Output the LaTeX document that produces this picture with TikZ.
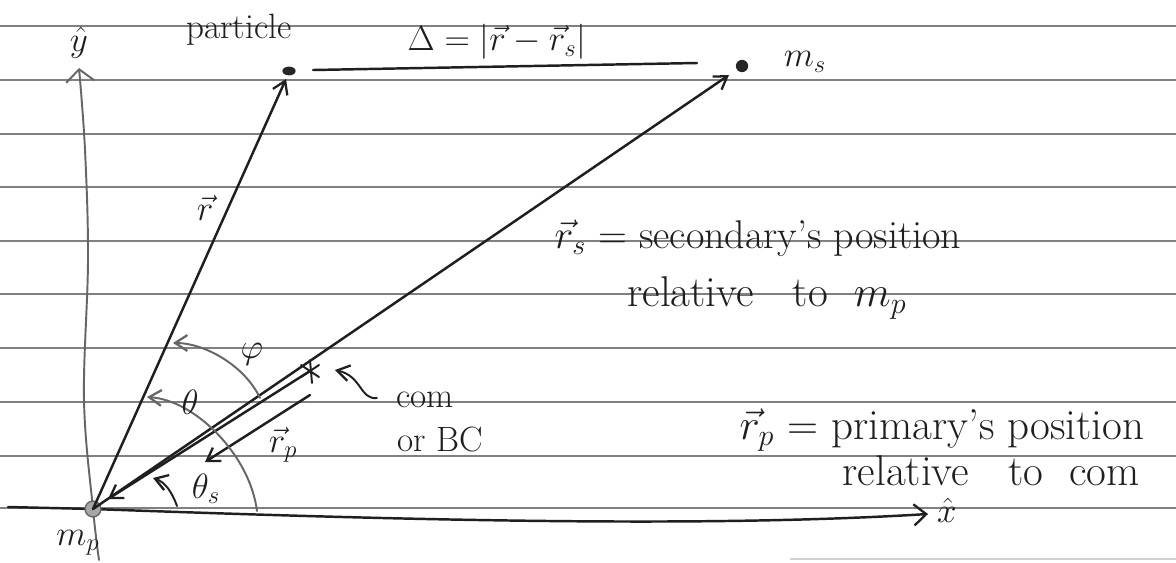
\RequirePackage{fix-cm}
\documentclass[tikz,border=0pt]{standalone}
\usetikzlibrary{arrows.meta,shapes.geometric,calc}
\begin{document}
\begin{tikzpicture}[
  x=0.02cm, y=-0.02cm,
  ink/.style={line width=1.4pt, black!88, line cap=round, line join=round},
  pencil/.style={line width=1.1pt, black!60, line cap=round, line join=round},
  ruled/.style={line width=0.6pt, black!50},
  barb/.style={-{Straight Barb[length=7pt,width=9pt,line width=1.3pt]}},
  lbl/.style={font=\fontsize{20}{24}\selectfont, inner sep=0pt, text=black!88},
  big/.style={font=\fontsize{24.5}{28}\selectfont, inner sep=0pt, text=black!88},
]
\useasboundingbox (0,0) rectangle (1176,562);
\fill[white] (0,0) rectangle (1176,562);

% ruled paper lines
\foreach \yy in {26,80,134,187,241,294,348,402,456,508}
  \draw[ruled] (0,\yy) -- (1176,\yy);
\draw[line width=0.6pt, black!18] (790,559) -- (1176,559);

% named points
\coordinate (mp) at (93,509);
\coordinate (ybot) at (99,560);
\coordinate (ya) at (84,400);
\coordinate (yb) at (88,260);
\coordinate (yc) at (85,150);
\coordinate (ytip) at (79,68);
\coordinate (xl) at (8,507);
\coordinate (xtip) at (928,514);
\coordinate (rtip) at (286,79);
\coordinate (mstip) at (729,75);
\coordinate (rsend) at (108,499);
\coordinate (com) at (310,371);
\coordinate (rpA) at (310,395);
\coordinate (rpB) at (205,462);
\coordinate (dl) at (313,70);
\coordinate (dr) at (697,63);
\coordinate (thA) at (257,511);
\coordinate (thB) at (147,397);
\coordinate (phA) at (260,398);
\coordinate (phB) at (173,343);
\coordinate (tsA) at (177,506);
\coordinate (tsB) at (153,478);
\coordinate (sq) at (377,398);
\coordinate (sqtip) at (335,370);

% axes
\draw[pencil, -{Straight Barb[length=7pt,width=16pt,line width=1.1pt]}]
  plot[smooth, tension=0.6] coordinates {(ybot) (mp) (ya) (yb) (yc) (ytip)};
\draw[ink, -{Straight Barb[length=7pt,width=12pt,line width=1.3pt]}]
  (xl) -- (mp) .. controls (400,520) and (700,528) .. (xtip);

% bodies
\node[draw=black!60, fill=black!35, line width=0.8pt, circle, inner sep=3.2pt] (mpdot) at (mp) {};
\node[fill=black!85, ellipse, inner sep=0pt, minimum width=7.5pt, minimum height=5pt] (particle) at (289,71) {};
\node[fill=black!85, circle, inner sep=0pt, minimum size=7pt] (ms) at (742,66) {};

% vectors
\draw[ink, barb] (mp) -- (rtip);
\draw[ink, barb] (mp) -- (mstip);
\draw[ink, barb] (com) -- (rsend);
\draw[ink, barb] (rpA) -- (rpB);
\draw[ink] (dl) -- (dr);

% com marker
\draw[ink, line width=1.1pt] ($(com)+(0,-11)$) -- ($(com)+(2,12)$)
  (com) ++(-9,-6) -- ++(18,12)  (com) ++(-9,6) -- ++(18,-12);

% angle arcs
\draw[pencil, barb] (thA) .. controls (250,455) and (195,400) .. (thB);
\draw[pencil, barb] (phA) .. controls (245,366) and (205,343) .. (phB);
\draw[ink, line width=1.1pt, barb] (tsA) .. controls (172,492) and (165,482) .. (tsB);
\draw[ink, line width=1.1pt, barb] (sq) .. controls (360,400) and (362,376) .. (sqtip);

% labels
\node[lbl] (particlel) at (239,30) {particle};
\node[lbl] (yhat) at (79,43) {$\hat{y}$};
\node[lbl] (xhat) at (947,510) {$\hat{x}$};
\node[lbl] (deltal) at (497,42) {$\Delta=|\vec r-\vec r_s|$};
\node[lbl] (msl) at (805,62) {$m_s$};
\node[lbl] (mpl) at (78,543) {$m_p$};
\node[lbl] (rl) at (205,208) {$\vec r$};
\node[lbl] (phil) at (252,354) {$\varphi$};
\node[lbl] (thl) at (190,402) {$\theta$};
\node[lbl] (thsl) at (206,489) {$\theta_s$};
\node[lbl] (rpl) at (283,445) {$\vec r_p$};
\node[lbl] (coml) at (425,400) {com};
\node[lbl] (orbc) at (440,439) {or BC};
\node[big, font=\fontsize{22.8}{26}\selectfont] (t1) at (758,238) {$\vec r_s$ = secondary's position};
\node[big] (t2) at (767,298) {relative \ \ to \ $m_p$};
\node[big] (t3) at (942,430) {$\vec r_p$ = primary's position};
\node[big] (t4) at (991,471) {relative \ \ to \ com};
\end{tikzpicture}
\end{document}
